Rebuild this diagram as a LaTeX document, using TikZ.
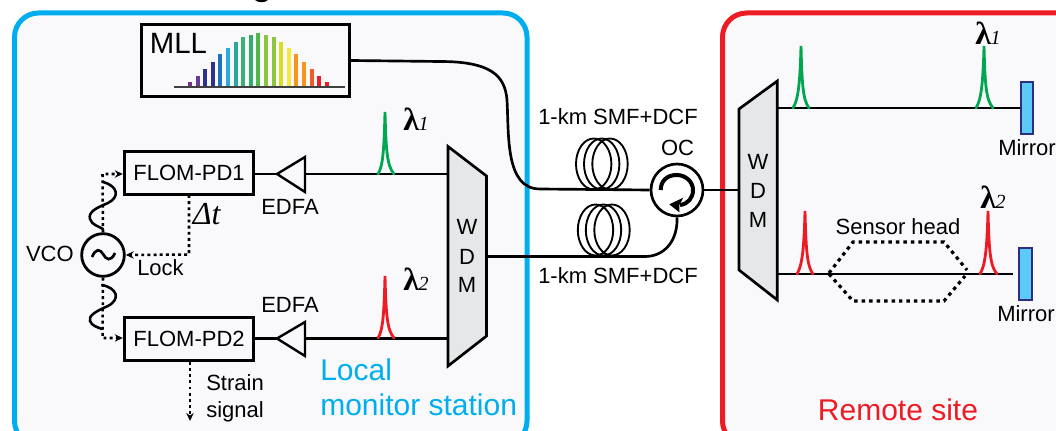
\documentclass[tikz,border=0pt]{standalone}
\usepackage{fontspec}
\setmainfont{Liberation Sans}
\newfontfamily\lamfont{Liberation Serif}
\usetikzlibrary{arrows.meta}
\definecolor{bluebox}{HTML}{00AEEF}
\definecolor{redbox}{HTML}{ED1C24}
\definecolor{panel}{HTML}{F9F9FC}
\definecolor{wdmgray}{HTML}{E6E7E8}
\definecolor{peakgreen}{HTML}{00A651}
\definecolor{mirrorfill}{HTML}{5BCBF5}
\definecolor{mirrordraw}{HTML}{2B2E83}
\newcommand{\lam}[1]{{\lamfont\fontsize{24pt}{24pt}\selectfont\textbf{λ}\kern-0.3pt\fontsize{15pt}{15pt}\selectfont\textit{#1}}}
\tikzset{
  x=0.75pt,y=-0.75pt,
  site/.style={line width=3.75pt,rounded corners=18pt,fill=panel},
  fibre/.style={line width=2pt,black},
  devbox/.style={draw,line width=2.3pt,fill=none,minimum width=97pt,minimum height=32pt,inner sep=0pt,font=\fontsize{16.5pt}{18pt}\selectfont},
  wdm/.style={draw,line width=2pt,fill=wdmgray,line join=miter},
  amp/.style={draw,line width=1.8pt,fill=none},
  lab/.style={inner sep=0pt,font=\fontsize{16.5pt}{18pt}\selectfont},
  dots/.style={line width=1.9pt,dash pattern=on 2.2pt off 2.4pt},
  dotstip/.style={-{Stealth[length=6pt,width=5.5pt]}},
  peak/.style={line width=2.1pt,line cap=round},
  coil/.style={draw,line width=1.4pt},
  mirror/.style={draw=mirrordraw,fill=mirrorfill,line width=1.5pt},
  wave/.style={line width=1.9pt,line cap=round},
  bar/.style={line width=3pt}
}
\begin{document}
\begin{tikzpicture}
\useasboundingbox (0,0) rectangle (1056,431);
\begin{scope}
\clip (0,0) rectangle (1056,431);
\draw[site,draw=bluebox] (14.5,13) rectangle (527,445);
\draw[site,draw=redbox] (722.5,13) rectangle (1090,445);
\fill[black] (255,0) .. controls (258,3) and (265,3) .. (268,0) -- cycle;
\end{scope}

% MLL
\coordinate (mllbase) at (174,87);
\node[draw,line width=2.3pt,minimum width=156pt,minimum height=54pt,inner sep=0pt] (mll) at (245.5,60.5) {};
\node[inner sep=0pt,font=\fontsize{22pt}{24pt}\selectfont] (mlltext) at (178.5,43) {MLL};
\foreach \bx/\bh/\bc in {
190/5/7B2D8E,197.6/10.7/6A3A9A,205.2/17.7/2E3192,212.8/25/2E3192,220.4/33/1C75BC,228/39/29ABE2,235.6/45/2BA6A0,243.2/49.7/3BB273,
250.8/51.7/2EAF6A,258.4/53.7/4DB848,266/51.7/8CC63F,273.6/49.7/8CC63F,281.2/45/D7DF23,288.8/39/F5E93B,296.4/33/F7941D,304/25/F7941D,311.6/17.7/F15A29,319.2/10.7/ED1C24,326.8/5/ED1C24}{
  \definecolor{barc}{HTML}{\bc}
  \draw[bar,draw=barc] (\bx,87) -- (\bx,87-\bh);
}
\draw[line width=1.6pt,draw=black!75] (mllbase) -- (345,87);

% Receiver chain
\node[devbox] (pd1) at (189,173) {FLOM-PD1};
\node[devbox] (pd2) at (189,339) {FLOM-PD2};
\draw[amp] (277,174) coordinate (a1tip) -- (305,157) -- (305,192) coordinate (a1b) -- cycle;
\draw[amp] (277,338.5) coordinate (a2tip) -- (305,322) -- (305,356) -- cycle;
\coordinate (a1base) at (305,174);
\coordinate (a2base) at (305,338.5);
\draw[fibre] (pd1.east |- a1tip) -- (a1tip);
\draw[fibre] (pd2.east |- a2tip) -- (a2tip);

% WDM left
\draw[wdm] (448,146.5) coordinate (wl1) -- (486.5,176) -- (486.5,336) coordinate (wl3) -- (448,366) -- cycle;
\coordinate (wlA) at (448,174);
\coordinate (wlB) at (448,338.5);
\coordinate (wlC) at (486.5,256.5);
\draw[fibre] (a1base) -- (wlA);
\draw[fibre] (a2base) -- (wlB);
\foreach \t/\y in {W/226.5,D/256.5,M/285}{\node[lab] at (467,\y) {\t};}

% Peaks left
\draw[peak,peakgreen] (378,174) .. controls (383,166) and (384,150) .. (385,112) .. controls (386,150) and (387,166) .. (394,174);
\draw[peak,redbox] (378,338) .. controls (383,330) and (384,314) .. (385,276) .. controls (386,314) and (387,330) .. (394,338);
\node[inner sep=0pt,anchor=west] (l1a) at (403,119) {\lam{1}};
\node[inner sep=0pt,anchor=west] (l2a) at (403,279) {\lam{2}};

% VCO and control
\node[circle,draw,line width=2.1pt,minimum size=32pt,inner sep=0pt] (vco) at (103,255) {};
\draw[line width=2pt] (92,257) .. controls (96,248) and (100,249) .. (103,254) .. controls (106,260) and (111,262) .. (115,253);
\node[lab,anchor=east] (vcotext) at (74,254) {VCO};
\draw[dots,dotstip] (vco.north) -- (102.5,174) -- (pd1.west |- 102.5,174);
\draw[dots,dotstip] (vco.south) -- (102.5,338) -- (pd2.west |- 102.5,338);
\draw[dots,dotstip] (189,195) -- (189,254.5) -- (vco.east);
\draw[dots,dotstip] (190,362) -- (190,421);
\draw[wave] (103,182) .. controls (118,186) and (120,197) .. (108,203) .. controls (96,208) and (88,212) .. (90,219) .. controls (92,225) and (98,226) .. (103,229);
\draw[wave] (102,285) .. controls (117,288) and (121,299) .. (108,306) .. controls (96,311) and (88,316) .. (90,321) .. controls (92,326) and (97,327) .. (102,329);
\node[lab] (dt) at (207,214) {\fontsize{24pt}{24pt}\selectfont\lamfont\textit{Δt}};
\node[lab] (lock) at (160.5,268) {Lock};
\node[lab] (edfa1) at (290,207) {EDFA};
\node[lab] (edfa2) at (290,305) {EDFA};
\node[lab,anchor=west] (strain) at (206,383) {Strain};
\node[lab,anchor=west] (signal) at (206,412) {signal};
\node[anchor=west,inner sep=0pt,text=bluebox,font=\fontsize{22.5pt}{26pt}\selectfont] (local) at (320,370) {Local};
\node[anchor=west,inner sep=0pt,text=bluebox,font=\fontsize{22.5pt}{26pt}\selectfont] (mon) at (320,405) {monitor station};

% Fibres and coils
\node[circle,draw,line width=2pt,minimum size=39pt,inner sep=0pt] (oc) at (677,190) {};
\draw[fibre] (mll.east) -- (440,61.5) .. controls (490,61.5) and (505,75) .. (507,100) .. controls (509,135) and (505,189) .. (540,189) -- (oc.west);
\draw[fibre] (wlC) -- (645,256.5) .. controls (665,256.5) and (678,240) .. (oc.south);
\foreach \cx in {593.7,601.7,610}{\draw[coil] (\cx,164) ellipse [x radius=17.7,y radius=25.5];}
\foreach \cx in {595.5,603.5,612}{\draw[coil] (\cx,230) ellipse [x radius=17.7,y radius=25.5];}
\node[lab] (smf1) at (618,117) {1-km SMF+DCF};
\node[lab] (smf2) at (618,276) {1-km SMF+DCF};
\node[lab] (octext) at (677.5,148) {OC};
\draw[line width=3pt] (660.7,190) .. controls (660.7,181) and (667,175) .. (676.7,175) .. controls (686,175) and (693,182) .. (693,190) .. controls (693,198) and (688,204) .. (680,205);
\fill (669.3,204.3) -- (683.3,197.7) -- (679.3,205) -- (679.3,212.3) -- cycle;

% WDM right
\draw[wdm] (739,109) coordinate (wr1) -- (777.3,81) -- (777.3,300) -- (739,270) -- cycle;
\coordinate (wrA) at (739,190);
\coordinate (wrB) at (777.3,108);
\coordinate (wrC) at (777.3,274);
\draw[fibre] (oc.east) -- (wrA);
\foreach \t/\y in {W/161.5,D/191,M/220}{\node[lab] at (758,\y) {\t};}

% Mirrors
\node[mirror,minimum width=9.5pt,minimum height=39.5pt,inner sep=0pt] (m1) at (1027,108) {};
\node[mirror,minimum width=9.5pt,minimum height=39.5pt,inner sep=0pt] (m2) at (1025.5,274) {};
\coordinate (m2end) at (1013,274);
\draw[fibre] (wrB) -- (m1.west |- wrB);
\draw[fibre] (wrC) -- (m2end);
\node[lab,anchor=west] (mt1) at (998,148) {Mirror};
\node[lab,anchor=west] (mt2) at (997,314) {Mirror};

% Peaks right
\draw[peak,peakgreen] (793,108) .. controls (798,100) and (800,85) .. (801,46) .. controls (802,85) and (803,100) .. (809,108);
\draw[peak,peakgreen] (976,108) .. controls (981,100) and (983,85) .. (984,46) .. controls (985,85) and (986,100) .. (993,108);
\draw[peak,redbox] (797,274) .. controls (802,266) and (804,250) .. (805,211) .. controls (806,250) and (807,266) .. (813,274);
\draw[peak,redbox] (980,274) .. controls (985,266) and (987,250) .. (988,211) .. controls (989,250) and (990,266) .. (997,274);
\node[inner sep=0pt,anchor=west] (l1b) at (975,33) {\lam{1}};
\node[inner sep=0pt,anchor=west] (l2b) at (980,197) {\lam{2}};

% Sensor head
\draw[line width=2.4pt,dash pattern=on 2.6pt off 3pt] (829,273) -- (853,242) -- (944,242) -- (967,270);
\draw[line width=2.4pt,dash pattern=on 2.6pt off 3pt] (829,274) -- (853,301) -- (944,301) -- (965,276);
\node[lab] (sensor) at (898,227) {Sensor head};
\node[inner sep=0pt,text=redbox,font=\fontsize{22.5pt}{26pt}\selectfont] (remote) at (898,410) {Remote site};
\end{tikzpicture}
\end{document}
